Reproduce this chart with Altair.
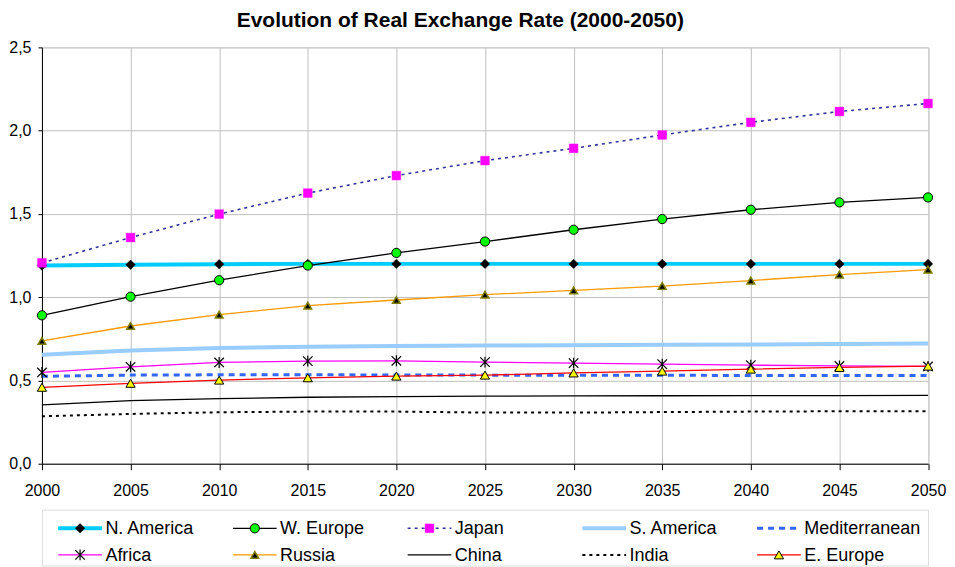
import altair as alt
import pandas as pd

years = [2000, 2005, 2010, 2015, 2020, 2025, 2030, 2035, 2040, 2045, 2050]

n_america = [1.19, 1.195, 1.198, 1.2, 1.2, 1.2, 1.2, 1.2, 1.2, 1.2, 1.2]
w_europe = [0.891, 1.003, 1.102, 1.19, 1.266, 1.334, 1.405, 1.469, 1.525, 1.569, 1.599]
japan = [1.206, 1.358, 1.499, 1.625, 1.730, 1.82, 1.894, 1.974, 2.05, 2.115, 2.163]
s_america = [0.655, 0.68, 0.695, 0.703, 0.707, 0.71, 0.712, 0.714, 0.716, 0.719, 0.722]
mediterranean = [0.525, 0.532, 0.534, 0.534, 0.533, 0.532, 0.531, 0.531, 0.53, 0.53, 0.53]
africa = [0.548, 0.582, 0.608, 0.616, 0.618, 0.61, 0.604, 0.598, 0.592, 0.587, 0.584]
russia = [0.737, 0.827, 0.895, 0.949, 0.983, 1.015, 1.041, 1.067, 1.1, 1.136, 1.166]
china = [0.353, 0.379, 0.391, 0.399, 0.403, 0.406, 0.407, 0.408, 0.409, 0.409, 0.41]
india = [0.285, 0.299, 0.309, 0.313, 0.313, 0.307, 0.307, 0.31, 0.313, 0.315, 0.315]
e_europe = [0.459, 0.483, 0.502, 0.516, 0.526, 0.532, 0.545, 0.556, 0.568, 0.578, 0.586]

series_names = ["N. America", "W. Europe", "Japan", "S. America", "Mediterranean",
                "Africa", "Russia", "China", "India", "E. Europe"]
series_values = [n_america, w_europe, japan, s_america, mediterranean,
                 africa, russia, china, india, e_europe]

y_ticks = [0, 0.5, 1.0, 1.5, 2.0, 2.5]

ASTERISK = "M-1,-1L1,1M-1,1L1,-1M0,-1.15L0,1.15"

styles = {
    "N. America": dict(line=dict(color="#00CCFF", strokeWidth=4),
                       point=dict(shape="diamond", fill="black", stroke="black", strokeWidth=0.5, size=90)),
    "W. Europe": dict(line=dict(color="black", strokeWidth=1.3),
                      point=dict(shape="circle", fill="#00FF00", stroke="black", strokeWidth=1, size=85)),
    "Japan": dict(line=dict(color="#333399", strokeWidth=1.6, strokeDash=[3, 4]),
                  point=dict(shape="square", fill="#FF00FF", stroke="#FF00FF", strokeWidth=0.5, size=75)),
    "S. America": dict(line=dict(color="#99CCFF", strokeWidth=4), point=None),
    "Mediterranean": dict(line=dict(color="#3366FF", strokeWidth=3, strokeDash=[6, 5]), point=None),
    "Africa": dict(line=dict(color="#FF00FF", strokeWidth=1.3),
                   point=dict(shape=ASTERISK, fill="transparent", stroke="black", strokeWidth=1.2, size=90)),
    "Russia": dict(line=dict(color="#FF9900", strokeWidth=1.3),
                   point=dict(shape="triangle-up", fill="black", stroke="#808000", strokeWidth=1.5, size=60)),
    "China": dict(line=dict(color="black", strokeWidth=1.3), point=None),
    "India": dict(line=dict(color="black", strokeWidth=2, strokeDash=[3, 4]), point=None),
    "E. Europe": dict(line=dict(color="#FF0000", strokeWidth=1.3),
                      point=dict(shape="triangle-up", fill="#FFFF00", stroke="black", strokeWidth=1, size=85)),
}

rows = []
for name, vals in zip(series_names, series_values):
    for yr, v in zip(years, vals):
        rows.append({"series": name, "year": yr, "value": v})
df = pd.DataFrame(rows)

FONT = "Liberation Sans"
PLOT_W = 887.5

x_enc = alt.X("year:Q",
              scale=alt.Scale(domain=[2000, 2050], nice=False, zero=False),
              axis=alt.Axis(values=years, format="d", title=None, labelFontSize=16,
                            labelFont=FONT, labelColor="black", tickSize=6, tickColor="black",
                            domainColor="black", labelPadding=13, gridColor="#C0C0C0",
                            grid=True, labelFlush=False))
y_enc = alt.Y("value:Q",
              scale=alt.Scale(domain=[0, 2.5], nice=False, zero=True),
              axis=alt.Axis(values=y_ticks, title=None, labelFontSize=16, labelFont=FONT,
                            labelColor="black", tickSize=4, tickColor="black", domainColor="black",
                            labelPadding=7, gridColor="#C0C0C0", grid=True,
                            labelExpr="replace(format(datum.value, '.1f'), '.', ',')"))

layers = []
for name in series_names:
    st = styles[name]
    base = alt.Chart(df).transform_filter(alt.datum.series == name)
    layers.append(base.mark_line(**st["line"]).encode(x=x_enc, y=y_enc))
    if st["point"] is not None:
        p = st["point"]
        layers.append(base.mark_point(opacity=1, filled=False, **p).encode(x=x_enc, y=y_enc))

main = alt.layer(*layers).properties(width=PLOT_W, height=417)

# Legend
leg_df = pd.DataFrame({
    "series": series_names,
    "col": [i % 5 for i in range(len(series_names))],
    "row": [i // 5 for i in range(len(series_names))],
})

lx = alt.Scale(domain=[-16.3 / 175, (PLOT_W - 16.3) / 175], nice=False, zero=False)
ly = alt.Scale(domain=[-0.703, 1.402], nice=False, zero=False, reverse=True)

leg_layers = []
for name in series_names:
    st = styles[name]
    base = (alt.Chart(leg_df)
            .transform_filter(alt.datum.series == name)
            .transform_calculate(x0="datum.col", x1="datum.col + 0.25",
                                 xm="datum.col + 0.125", xt="datum.col + 0.27"))
    leg_layers.append(base.mark_rule(**st["line"]).encode(
        x=alt.X("x0:Q", scale=lx, axis=None), x2="x1:Q",
        y=alt.Y("row:Q", scale=ly, axis=None)))
    if st["point"] is not None:
        leg_layers.append(base.mark_point(opacity=1, filled=False, **st["point"]).encode(
            x=alt.X("xm:Q", scale=lx, axis=None),
            y=alt.Y("row:Q", scale=ly, axis=None)))
    leg_layers.append(base.mark_text(align="left", baseline="middle", fontSize=18, font=FONT,
                                     color="black", dy=1).encode(
        x=alt.X("xt:Q", scale=lx, axis=None),
        y=alt.Y("row:Q", scale=ly, axis=None),
        text="series:N"))

legend = alt.layer(*leg_layers).properties(width=PLOT_W, height=56)

chart = alt.vconcat(main, legend, spacing=9).properties(
    title=alt.TitleParams("Evolution of Real Exchange Rate (2000-2050)", fontSize=21,
                          fontWeight="bold", font=FONT, anchor="middle", offset=7.5,
                          dx=-17, color="black"),
    padding={"left": 0, "top": 2, "right": 0, "bottom": 0},
).configure_view(stroke=None).configure(background="white")

chart.save("out.html", embed_options={"renderer": "svg", "actions": False})
